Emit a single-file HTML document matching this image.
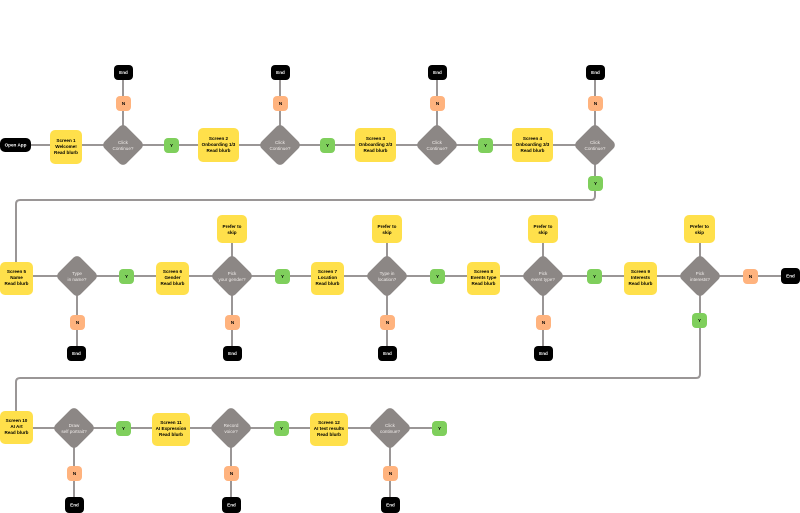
<!DOCTYPE html>
<html><head><meta charset="utf-8"><style>
html,body{margin:0;padding:0;background:#fff;width:800px;height:513px;overflow:hidden}
svg text{font-family:"Liberation Sans",sans-serif;font-size:4.6px;font-weight:bold;text-anchor:middle}
.l{stroke:#9a9696;stroke-width:2;fill:none}
.s{fill:#ffe04b}
.d{fill:#8c8785}
.g{fill:#7fcf5c}
.o{fill:#ffb37e}
.k{fill:#000}
.w{fill:#fff}
.dt{fill:#f0ecea;font-weight:normal}
</style></head><body>
<svg width="800" height="513" viewBox="0 0 800 513" xmlns="http://www.w3.org/2000/svg">
<path class="l" d="M0,145H595 M123,145V72 M280,145V72 M437,145V72 M595,145V72 M595,145V196Q595,200 591,200H20Q16,200 16,204V263"/>
<path class="l" d="M0,276H790 M77,276V353 M232,229V353 M387,229V353 M543,229V353 M700,229V374Q700,378 696,378H20Q16,378 16,382V411"/>
<path class="l" d="M0,428H440 M74,428V505 M231,428V505 M390,428V505"/>

<rect class="k" x="0" y="138" width="31" height="14" rx="5"/><text class="w" x="15.5" y="146.6">Open App</text>
<rect class="s" x="50" y="130" width="32" height="34" rx="5"/><text x="66" y="142">Screen 1</text><text x="66" y="148">Welcome!</text><text x="66" y="154">Read blurb</text>
<rect class="s" x="198" y="128" width="41" height="34" rx="5"/><text x="218.5" y="140">Screen 2</text><text x="218.5" y="146">Onboarding 1/3</text><text x="218.5" y="152">Read blurb</text>
<rect class="s" x="355" y="128" width="41" height="34" rx="5"/><text x="375.5" y="140">Screen 3</text><text x="375.5" y="146">Onboarding 2/3</text><text x="375.5" y="152">Read blurb</text>
<rect class="s" x="512" y="128" width="41" height="34" rx="5"/><text x="532.5" y="140">Screen 4</text><text x="532.5" y="146">Onboarding 3/3</text><text x="532.5" y="152">Read blurb</text>

<g class="d">
<rect x="107.5" y="129.5" width="31" height="31" rx="5" transform="rotate(45 123 145)"/>
<rect x="264.5" y="129.5" width="31" height="31" rx="5" transform="rotate(45 280 145)"/>
<rect x="421.5" y="129.5" width="31" height="31" rx="5" transform="rotate(45 437 145)"/>
<rect x="579.5" y="129.5" width="31" height="31" rx="5" transform="rotate(45 595 145)"/>
<rect x="61.5" y="260.5" width="31" height="31" rx="5" transform="rotate(45 77 276)"/>
<rect x="216.5" y="260.5" width="31" height="31" rx="5" transform="rotate(45 232 276)"/>
<rect x="371.5" y="260.5" width="31" height="31" rx="5" transform="rotate(45 387 276)"/>
<rect x="527.5" y="260.5" width="31" height="31" rx="5" transform="rotate(45 543 276)"/>
<rect x="684.5" y="260.5" width="31" height="31" rx="5" transform="rotate(45 700 276)"/>
<rect x="58.5" y="412.5" width="31" height="31" rx="5" transform="rotate(45 74 428)"/>
<rect x="215.5" y="412.5" width="31" height="31" rx="5" transform="rotate(45 231 428)"/>
<rect x="374.5" y="412.5" width="31" height="31" rx="5" transform="rotate(45 390 428)"/>
</g>
<text class="dt" x="123" y="144">Click</text><text class="dt" x="123" y="150">Continue?</text>
<text class="dt" x="280" y="144">Click</text><text class="dt" x="280" y="150">Continue?</text>
<text class="dt" x="437" y="144">Click</text><text class="dt" x="437" y="150">Continue?</text>
<text class="dt" x="595" y="144">Click</text><text class="dt" x="595" y="150">Continue?</text>

<g>
<rect class="g" x="164" y="138" width="15" height="15" rx="4"/><text x="171.5" y="147">Y</text>
<rect class="g" x="320" y="138" width="15" height="15" rx="4"/><text x="327.5" y="147">Y</text>
<rect class="g" x="478" y="138" width="15" height="15" rx="4"/><text x="485.5" y="147">Y</text>
<rect class="g" x="588" y="176" width="15" height="15" rx="4"/><text x="595.5" y="185">Y</text>
<rect class="o" x="116" y="96" width="15" height="15" rx="4"/><text x="123.5" y="105">N</text>
<rect class="o" x="273" y="96" width="15" height="15" rx="4"/><text x="280.5" y="105">N</text>
<rect class="o" x="430" y="96" width="15" height="15" rx="4"/><text x="437.5" y="105">N</text>
<rect class="o" x="588" y="96" width="15" height="15" rx="4"/><text x="595.5" y="105">N</text>
<rect class="k" x="114" y="65" width="19" height="15" rx="4"/><text class="w" x="123.5" y="74">End</text>
<rect class="k" x="271" y="65" width="19" height="15" rx="4"/><text class="w" x="280.5" y="74">End</text>
<rect class="k" x="428" y="65" width="19" height="15" rx="4"/><text class="w" x="437.5" y="74">End</text>
<rect class="k" x="586" y="65" width="19" height="15" rx="4"/><text class="w" x="595.5" y="74">End</text>
</g>

<rect class="s" x="0" y="262" width="33" height="33" rx="5"/><text x="16.5" y="273">Screen 5</text><text x="16.5" y="279">Name</text><text x="16.5" y="285">Read blurb</text>
<rect class="s" x="156" y="262" width="33" height="33" rx="5"/><text x="172.5" y="273">Screen 6</text><text x="172.5" y="279">Gender</text><text x="172.5" y="285">Read blurb</text>
<rect class="s" x="311" y="262" width="33" height="33" rx="5"/><text x="327.5" y="273">Screen 7</text><text x="327.5" y="279">Location</text><text x="327.5" y="285">Read blurb</text>
<rect class="s" x="467" y="262" width="33" height="33" rx="5"/><text x="483.5" y="273">Screen 8</text><text x="483.5" y="279">Events type</text><text x="483.5" y="285">Read blurb</text>
<rect class="s" x="624" y="262" width="33" height="33" rx="5"/><text x="640.5" y="273">Screen 9</text><text x="640.5" y="279">Interests</text><text x="640.5" y="285">Read blurb</text>

<text class="dt" x="77" y="275">Type</text><text class="dt" x="77" y="281">in name?</text>
<text class="dt" x="232" y="275">Pick</text><text class="dt" x="232" y="281">your gender?</text>
<text class="dt" x="387" y="275">Type in</text><text class="dt" x="387" y="281">location?</text>
<text class="dt" x="543" y="275">Pick</text><text class="dt" x="543" y="281">event type?</text>
<text class="dt" x="700" y="275">Pick</text><text class="dt" x="700" y="281">interests?</text>

<rect class="s" x="217" y="215" width="30" height="28" rx="5"/><text x="232" y="228">Prefer to</text><text x="232" y="234">skip</text>
<rect class="s" x="372" y="215" width="30" height="28" rx="5"/><text x="387" y="228">Prefer to</text><text x="387" y="234">skip</text>
<rect class="s" x="528" y="215" width="30" height="28" rx="5"/><text x="543" y="228">Prefer to</text><text x="543" y="234">skip</text>
<rect class="s" x="684" y="215" width="31" height="28" rx="5"/><text x="699.5" y="228">Prefer to</text><text x="699.5" y="234">skip</text>

<rect class="g" x="119" y="269" width="15" height="15" rx="4"/><text x="126.5" y="278">Y</text>
<rect class="g" x="275" y="269" width="15" height="15" rx="4"/><text x="282.5" y="278">Y</text>
<rect class="g" x="430" y="269" width="15" height="15" rx="4"/><text x="437.5" y="278">Y</text>
<rect class="g" x="587" y="269" width="15" height="15" rx="4"/><text x="594.5" y="278">Y</text>
<rect class="g" x="692" y="313" width="15" height="15" rx="4"/><text x="699.5" y="322">Y</text>
<rect class="o" x="743" y="269" width="15" height="15" rx="4"/><text x="750.5" y="278">N</text>
<rect class="k" x="781" y="268" width="19" height="16" rx="4"/><text class="w" x="790.5" y="277.5">End</text>
<rect class="o" x="70" y="315" width="15" height="15" rx="4"/><text x="77.5" y="324">N</text>
<rect class="o" x="225" y="315" width="15" height="15" rx="4"/><text x="232.5" y="324">N</text>
<rect class="o" x="380" y="315" width="15" height="15" rx="4"/><text x="387.5" y="324">N</text>
<rect class="o" x="536" y="315" width="15" height="15" rx="4"/><text x="543.5" y="324">N</text>
<rect class="k" x="67" y="346" width="19" height="15" rx="4"/><text class="w" x="76.5" y="355">End</text>
<rect class="k" x="223" y="346" width="19" height="15" rx="4"/><text class="w" x="232.5" y="355">End</text>
<rect class="k" x="378" y="346" width="19" height="15" rx="4"/><text class="w" x="387.5" y="355">End</text>
<rect class="k" x="534" y="346" width="19" height="15" rx="4"/><text class="w" x="543.5" y="355">End</text>

<rect class="s" x="0" y="411" width="33" height="33" rx="5"/><text x="16.5" y="422">Screen 10</text><text x="16.5" y="428">AI Art</text><text x="16.5" y="434">Read blurb</text>
<rect class="s" x="152" y="413" width="38" height="33" rx="5"/><text x="171" y="424">Screen 11</text><text x="171" y="430">AI Expression</text><text x="171" y="436">Read blurb</text>
<rect class="s" x="310" y="413" width="38" height="33" rx="5"/><text x="329" y="424">Screen 12</text><text x="329" y="430">AI test results</text><text x="329" y="436">Read blurb</text>

<text class="dt" x="74" y="427">Draw</text><text class="dt" x="74" y="433">self portrait?</text>
<text class="dt" x="231" y="427">Record</text><text class="dt" x="231" y="433">voice?</text>
<text class="dt" x="390" y="427">Click</text><text class="dt" x="390" y="433">continue?</text>

<rect class="g" x="116" y="421" width="15" height="15" rx="4"/><text x="123.5" y="430">Y</text>
<rect class="g" x="274" y="421" width="15" height="15" rx="4"/><text x="281.5" y="430">Y</text>
<rect class="g" x="432" y="421" width="15" height="15" rx="4"/><text x="439.5" y="430">Y</text>
<rect class="o" x="67" y="466" width="15" height="15" rx="4"/><text x="74.5" y="475">N</text>
<rect class="o" x="224" y="466" width="15" height="15" rx="4"/><text x="231.5" y="475">N</text>
<rect class="o" x="383" y="466" width="15" height="15" rx="4"/><text x="390.5" y="475">N</text>
<rect class="k" x="65" y="497" width="19" height="16" rx="4"/><text class="w" x="74.5" y="506.5">End</text>
<rect class="k" x="222" y="497" width="19" height="16" rx="4"/><text class="w" x="231.5" y="506.5">End</text>
<rect class="k" x="381" y="497" width="19" height="16" rx="4"/><text class="w" x="390.5" y="506.5">End</text>
</svg>
</body></html>
